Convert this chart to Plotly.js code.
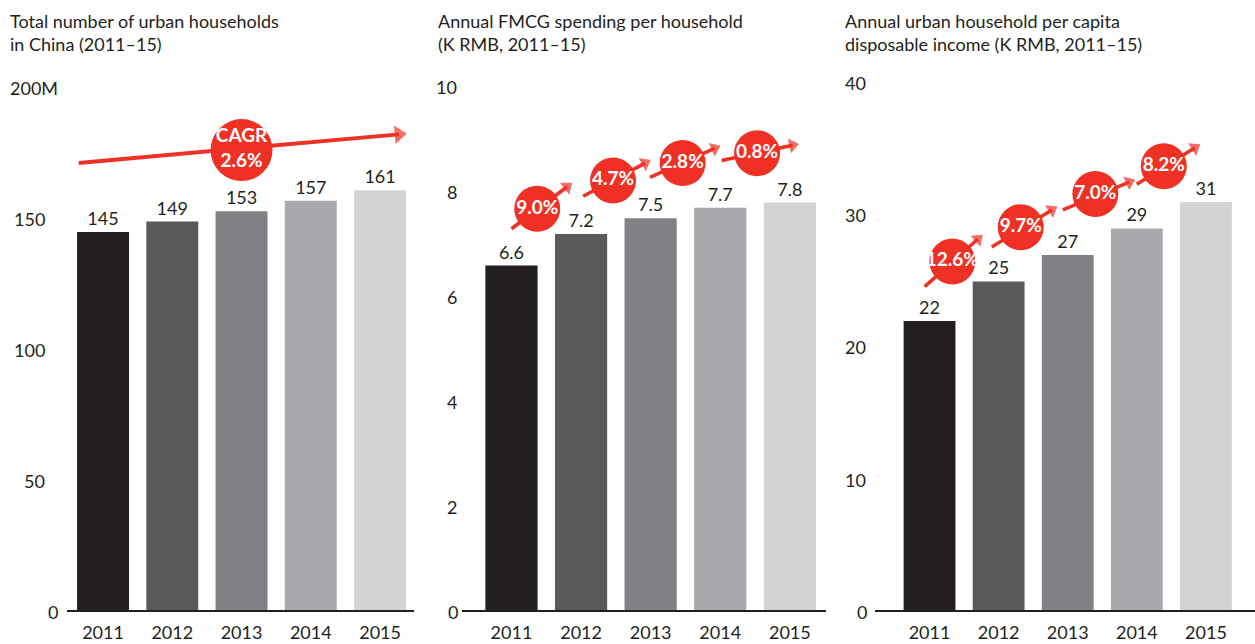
<!DOCTYPE html>
<html><head><meta charset="utf-8">
<script src="https://cdn.plot.ly/plotly-3.0.1.min.js"></script>
<style>html,body{margin:0;padding:0;background:#fff}#chart{width:1255px;height:644px}</style>
</head><body><div id="chart"></div>
<script>
// ---- data ----
const years = ['2011','2012','2013','2014','2015'];
const households = [145, 149, 153, 157, 161];          // M
const fmcgSpend = [6.6, 7.2, 7.5, 7.7, 7.8];             // K RMB
const income = [22, 25, 27, 29, 31];                     // K RMB
const householdsCagr = '2.6%';
const fmcgGrowth = ['9.0%', '4.7%', '2.8%', '0.8%'];
const incomeGrowth = ['12.6%', '9.7%', '7.0%', '8.2%'];
const titles = [
  'Total number of urban households<br>in China (2011–15)',
  'Annual FMCG spending per household<br>(K RMB, 2011–15)',
  'Annual urban household per capita<br>disposable income (K RMB, 2011–15)'
];
const ticks1 = [0, 50, 100, 150, 200], tickText1 = ['0', '50', '100', '150', '200M'];
const ticks2 = [0, 2, 4, 6, 8, 10];
const ticks3 = [0, 10, 20, 30, 40];

// ---- style ----
const W = 1255, H = 644;
const FONT = 'Lato, "Open Sans", sans-serif';
const INK = '#231f20';
const RED = '#ee3124';
const barColors = ['#231f20', '#58595b', '#808285', '#a7a9ac', '#d1d3d4'];
const xs = years.map((_, i) => i);
const px = v => v / W, py = v => 1 - v / H;

// arrow/circle placement (layout, in data units of each panel)
const fmcgPos = [
  {c: [0.37, 7.68], s: [0.0, 7.30], e: [0.80, 8.10]},
  {c: [1.46, 8.22], s: [1.03, 7.92], e: [1.92, 8.55]},
  {c: [2.46, 8.55], s: [1.99, 8.28], e: [2.92, 8.83]},
  {c: [3.53, 8.74], s: [3.02, 8.60], e: [4.04, 8.89]}
];
const incPos = [
  {c: [0.33, 26.5], s: [-0.07, 24.6], e: [0.70, 28.2]},
  {c: [1.32, 29.1], s: [0.90, 27.6], e: [1.77, 30.4]},
  {c: [2.40, 31.6], s: [1.93, 30.4], e: [2.89, 32.5]},
  {c: [3.39, 33.7], s: [3.00, 32.35], e: [3.84, 35.1]}
];
const cagrPos = {c: [2.0, 176.3], s: [-0.35, 171.4], e: [4.27, 182.3]};

const traces = [];
function bars(vals, xa, ya, fmt) {
  traces.push({
    type: 'bar', x: xs, y: vals, xaxis: xa, yaxis: ya, width: 0.75,
    marker: {color: barColors, line: {width: 0}},
    text: vals.map(fmt), textposition: 'outside', cliponaxis: false,
    textfont: {family: FONT, size: 18, color: INK},
    hoverinfo: 'skip', showlegend: false
  });
}
function arrow(p, xa, ya, w, head) {
  traces.push({
    type: 'scatter', mode: 'lines+markers', xaxis: xa, yaxis: ya,
    x: [p.s[0], p.e[0]], y: [p.s[1], p.e[1]],
    line: {color: RED, width: w},
    marker: {symbol: ['circle', 'triangle-up'], size: [0, head], color: RED, angleref: 'previous', line: {width: 0}},
    cliponaxis: false, hoverinfo: 'skip', showlegend: false
  });
}
function bubbles(list, labels, xa, ya, size, fsize) {
  traces.push({
    type: 'scatter', mode: 'markers+text', xaxis: xa, yaxis: ya,
    x: list.map(p => p.c[0]), y: list.map(p => p.c[1]),
    text: labels.map(t => '<b>' + t + '</b>'), textposition: 'middle center',
    textfont: {family: FONT, size: fsize, color: '#ffffff'},
    marker: {size: size, color: RED, line: {width: 0}},
    cliponaxis: false, hoverinfo: 'skip', showlegend: false
  });
}

bars(households, 'x', 'y', v => String(v));
bars(fmcgSpend, 'x2', 'y2', v => v.toFixed(1));
bars(income, 'x3', 'y3', v => String(v));

arrow(cagrPos, 'x', 'y', 4, 16);
bubbles([cagrPos], ['CAGR<br>' + householdsCagr], 'x', 'y', 62, 19);
fmcgPos.forEach(p => arrow(p, 'x2', 'y2', 3.5, 13));
bubbles(fmcgPos, fmcgGrowth, 'x2', 'y2', 46, 19);
incPos.forEach(p => arrow(p, 'x3', 'y3', 3.5, 13));
bubbles(incPos, incomeGrowth, 'x3', 'y3', 46, 19);

function xaxis(l, r, rng) {
  return {domain: [px(l), px(r)], range: rng, showgrid: false, zeroline: false, showline: false,
    tickvals: xs, ticktext: years, ticks: '', tickfont: {family: FONT, size: 18, color: INK},
    ticklabelstandoff: 8, fixedrange: true};
}
function yaxis(top, rng, anchor) {
  return {domain: [1 - 612 / H, py(top)], range: rng, showgrid: false, zeroline: false, showline: false,
    showticklabels: false, ticks: '', anchor: anchor, fixedrange: true};
}

const annotations = [];
[8, 436, 843].forEach((x, i) => annotations.push({
  xref: 'paper', yref: 'paper', x: px(x), y: py(8), xanchor: 'left', yanchor: 'top', align: 'left',
  text: titles[i], showarrow: false, font: {family: FONT, size: 18, color: INK}
}));
function yTicks(vals, texts, yref, rightPx) {
  vals.forEach((v, i) => {
    const t = texts[i];
    const a = {xref: 'paper', yref: yref, y: v, yanchor: 'middle', text: t, showarrow: false,
      font: {family: FONT, size: 18, color: INK}};
    if (t === '200M') { a.x = px(8); a.xanchor = 'left'; }
    else if (v === 0) { a.x = px(rightPx.zero); a.xanchor = 'right'; }
    else { a.x = px(rightPx.other); a.xanchor = 'right'; }
    annotations.push(a);
  });
}
yTicks(ticks1, tickText1, 'y', {zero: 60, other: 47});
yTicks(ticks2, ticks2.map(String), 'y2', {zero: 460, other: 459});
yTicks(ticks3, ticks3.map(String), 'y3', {zero: 869, other: 868});

const shapes = [['x', 'y'], ['x2', 'y2'], ['x3', 'y3']].map(([xa, ya]) => ({
  type: 'line', xref: xa + ' domain', yref: ya, x0: 0, x1: 1, y0: 0, y1: 0,
  line: {color: INK, width: 4}, layer: 'above'
}));

const layout = {
  width: W, height: H, margin: {l: 0, r: 0, t: 0, b: 0},
  paper_bgcolor: '#ffffff', plot_bgcolor: '#ffffff', showlegend: false,
  font: {family: FONT, color: INK},
  xaxis: xaxis(67, 414, [-0.52, 4.49]),
  xaxis2: Object.assign(xaxis(462, 826, [-0.711, 4.52]), {anchor: 'y2'}),
  xaxis3: Object.assign(xaxis(875, 1255, [-0.789, 4.71]), {anchor: 'y3'}),
  yaxis: yaxis(88, [0, 200], 'x'),
  yaxis2: yaxis(87, [0, 10], 'x2'),
  yaxis3: yaxis(83, [0, 40], 'x3'),
  annotations: annotations, shapes: shapes
};
Plotly.newPlot('chart', traces, layout, {staticPlot: true, displayModeBar: false});
</script></body></html>
